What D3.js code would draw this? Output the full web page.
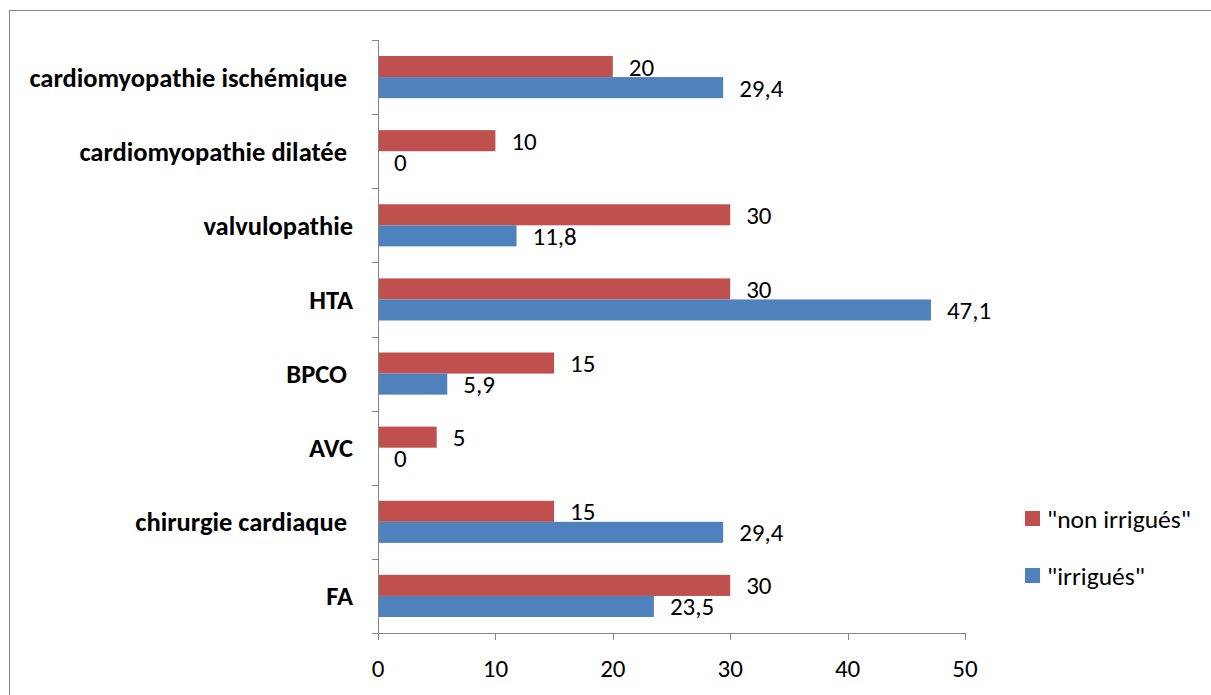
<!DOCTYPE html>
<html>
<head>
<meta charset="utf-8">
<script src="https://cdn.jsdelivr.net/npm/d3@7/dist/d3.min.js"></script>
<style>
  html, body { margin: 0; padding: 0; background: #fff; }
  svg { display: block; font-family: Carlito, Calibri, Lato, "Noto Sans", sans-serif; }
</style>
</head>
<body>
<svg id="chart" width="1211" height="695"></svg>
<script>
// Comorbidités par groupe (%)
const categories = [
  "cardiomyopathie ischémique ",
  "cardiomyopathie dilatée ",
  "valvulopathie",
  "HTA",
  "BPCO ",
  "AVC",
  "chirurgie cardiaque ",
  "FA"
];
const nonIrrigues = [20, 10, 30, 30, 15, 5, 15, 30];
const irrigues = [29.4, 0, 11.8, 47.1, 5.9, 0, 29.4, 23.5];
const seriesNames = ["\"non irrigués\"", "\"irrigués\""];
const xTicks = [0, 10, 20, 30, 40, 50];

const colors = ["#C0504D", "#4F81BD"];
const axisColor = "#868686";

const svg = d3.select("#chart");

// outer frame of the chart area
svg.append("rect")
  .attr("x", 9.5).attr("y", 10.5)
  .attr("width", 1400).attr("height", 900)
  .attr("fill", "#fff").attr("stroke", axisColor).attr("stroke-width", 1);

const plot = { left: 378, right: 965, top: 40, bottom: 633 };

const x = d3.scaleLinear().domain([0, 50]).range([plot.left, plot.right]);
const y = d3.scaleBand().domain(categories).range([plot.top, plot.bottom]);
const inner = d3.scaleBand().domain([0, 1])
  .range([0, y.bandwidth()]).paddingOuter(0.76).paddingInner(0);

const locale = d3.formatLocale({ decimal: ",", thousands: " ", grouping: [3], currency: ["", " €"] });
const fmt = v => locale.format("~g")(v);

const series = [nonIrrigues, irrigues];
const numSize = 25;

// bars
series.forEach((vals, s) => {
  svg.append("g").selectAll("rect")
    .data(vals)
    .join("rect")
    .attr("x", x(0))
    .attr("y", (d, i) => y(categories[i]) + inner(s))
    .attr("width", d => x(d) - x(0))
    .attr("height", inner.bandwidth())
    .attr("fill", colors[s]);
});

// value labels
series.forEach((vals, s) => {
  svg.append("g").selectAll("text")
    .data(vals)
    .join("text")
    .attr("x", d => x(d) + 16)
    .attr("y", (d, i) => y(categories[i]) + inner(s) + inner.bandwidth() / 2)
    .attr("dy", "0.36em")
    .attr("font-size", numSize)
    .attr("fill", "#000")
    .text(d => fmt(d));
});

// y axis
const yAxis = svg.append("g").attr("transform", `translate(${plot.left},0)`);
yAxis.append("line")
  .attr("x1", 0.5).attr("x2", 0.5).attr("y1", plot.top).attr("y2", plot.bottom)
  .attr("stroke", axisColor);
const yTickPos = categories.map(c => y(c)).concat([plot.bottom]);
yAxis.selectAll("line.tick")
  .data(yTickPos)
  .join("line").attr("class", "tick")
  .attr("x1", -6).attr("x2", 0.5)
  .attr("y1", d => Math.round(d) + 0.5).attr("y2", d => Math.round(d) + 0.5)
  .attr("stroke", axisColor);
svg.append("g").selectAll("text")
  .data(categories)
  .join("text")
  .attr("x", 353)
  .attr("y", d => y(d) + y.bandwidth() / 2)
  .attr("dy", "0.36em")
  .attr("text-anchor", "end")
  .attr("font-weight", "bold")
  .attr("font-size", 26.5)
  .style("white-space", "pre")
  .attr("fill", "#000")
  .text(d => d);

// x axis
const xAxis = svg.append("g").attr("transform", `translate(0,${plot.bottom})`);
xAxis.append("line")
  .attr("x1", plot.left).attr("x2", plot.right).attr("y1", 0.5).attr("y2", 0.5)
  .attr("stroke", axisColor);
xAxis.selectAll("line.tick")
  .data(xTicks)
  .join("line").attr("class", "tick")
  .attr("x1", d => Math.round(x(d)) + 0.5).attr("x2", d => Math.round(x(d)) + 0.5)
  .attr("y1", 0).attr("y2", 7)
  .attr("stroke", axisColor);
xAxis.selectAll("text")
  .data(xTicks)
  .join("text")
  .attr("x", d => x(d))
  .attr("y", 35)
  .attr("dy", "0.36em")
  .attr("text-anchor", "middle")
  .attr("font-size", numSize)
  .attr("fill", "#000")
  .text(d => fmt(d));

// legend
const legend = svg.append("g").attr("transform", "translate(1025,511)");
seriesNames.forEach((name, i) => {
  const g = legend.append("g").attr("transform", `translate(0,${i * 57})`);
  g.append("rect").attr("width", 15).attr("height", 15).attr("fill", colors[i]);
  g.append("text")
    .attr("x", 22).attr("y", 7.5).attr("dy", "0.36em")
    .attr("font-size", 25.5).attr("fill", "#000")
    .text(name);
});
</script>
</body>
</html>
